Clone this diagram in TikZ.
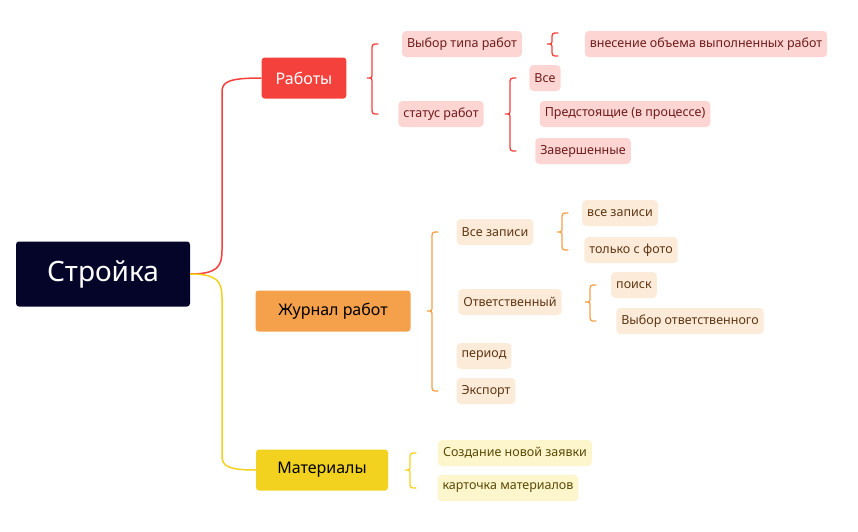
\documentclass[tikz,border=0pt]{standalone}
\usepackage{fontspec}
\setmainfont{Noto Sans}
\definecolor{rootc}{HTML}{05052A}
\definecolor{redc}{HTML}{F5413C}
\definecolor{orangec}{HTML}{F5A04A}
\definecolor{yellowc}{HTML}{F2D21F}
\definecolor{redl}{HTML}{FDD5D3}
\definecolor{orangel}{HTML}{FDEBDA}
\definecolor{yellowl}{HTML}{FDF5CC}
\definecolor{redt}{HTML}{6E1C1C}
\definecolor{oranget}{HTML}{5E3612}
\definecolor{yellowt}{HTML}{5A4A05}
\newcommand{\curly}[5]{%
  \draw[#5, line width=1.3pt, line cap=round]
    (#1+6, #2) .. controls (#1, #2) .. (#1, #2+7) -- (#1, #3-5)
    .. controls (#1, #3) .. (#1-5, #3)
    .. controls (#1, #3) .. (#1, #3+5) -- (#1, #4-7)
    .. controls (#1, #4) .. (#1+6, #4)}
\begin{document}
\begin{tikzpicture}[x=1pt, y=-1pt,
    topic/.style={rounded corners=3pt, minimum height=41pt, inner xsep=14pt, font=\fontsize{16}{18}\selectfont},
    leaf/.style={rounded corners=4pt, minimum height=26pt, inner xsep=5pt, font=\fontsize{12.5}{14}\selectfont},
    redleaf/.style={leaf, fill=redl, text=redt},
    orangeleaf/.style={leaf, fill=orangel, text=oranget},
    yellowleaf/.style={leaf, fill=yellowl, text=yellowt}]
  \useasboundingbox (0,0) rectangle (858,531);

  \node[rounded corners=3pt, fill=rootc, text=white, minimum width=174pt, minimum height=65pt,
    font=\fontsize{28}{32}\selectfont] (root) at (103,274) {Стройка};

  \node[topic, fill=redc, text=white] (works) at (304,78) {Работы};
  \node[topic, fill=orangec, text=black, minimum width=155pt] (journal) at (333,311) {Журнал работ};
  \node[topic, fill=yellowc, text=black, minimum width=132pt] (materials) at (322,470) {Материалы};

  \draw[redc, line width=1.5pt] (root.east) .. controls (218,274) and (222,266) .. (222,250)
    -- (222,92) .. controls (222,82) and (228,78) .. (works.west);
  \draw[yellowc, line width=1.5pt] (root.east) .. controls (218,274) and (222,282) .. (222,298)
    -- (222,456) .. controls (222,466) and (228,470) .. (materials.west);

  % Работы
  \node[redleaf] (type) at (462,44) {Выбор типа работ};
  \node[redleaf] (volume) at (706,44) {внесение объема выполненных работ};
  \node[redleaf] (status) at (441,114) {статус работ};
  \node[redleaf] (all) at (545,78) {Все};
  \node[redleaf] (pending) at (625,114) {Предстоящие (в процессе)};
  \node[redleaf] (done) at (583,151) {Завершенные};
  \curly{372}{44}{78}{114}{redc};
  \curly{552}{33}{44}{56}{redc};
  \curly{510}{78}{114}{151}{redc};

  % Журнал работ
  \node[orangeleaf] (records) at (495,232) {Все записи};
  \node[orangeleaf] (allrec) at (620,213) {все записи};
  \node[orangeleaf] (photo) at (631,250) {только с фото};
  \node[orangeleaf] (resp) at (510,302) {Ответственный};
  \node[orangeleaf] (search) at (634,285) {поиск};
  \node[orangeleaf] (choose) at (690,321) {Выбор ответственного};
  \node[orangeleaf] (period) at (484,356) {период};
  \node[orangeleaf] (export) at (486,391) {Экспорт};
  \curly{432}{232}{311}{391}{orangec};
  \curly{562}{213}{232}{250}{orangec};
  \curly{590}{285}{302}{321}{orangec};

  % Материалы
  \node[yellowleaf] (newreq) at (515,453) {Создание новой заявки};
  \node[yellowleaf] (card) at (508,488) {карточка материалов};
  \curly{410}{453}{470}{488}{yellowc};
\end{tikzpicture}
\end{document}
